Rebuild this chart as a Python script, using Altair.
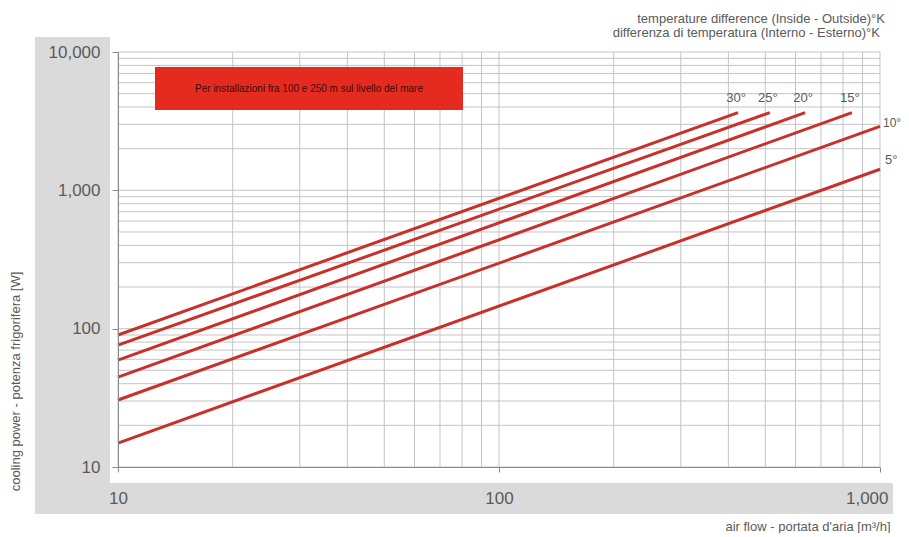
import altair as alt
import pandas as pd

# ---- data ----
delta_t = [5, 10, 15, 20, 25, 30]
labels = ["5°", "10°", "15°", "20°", "25°", "30°"]
flow_start = [10, 10, 10, 10, 10, 10]
power_start = [14.9, 30.5, 44.6, 59.3, 76, 90]
flow_end = [1000, 1000, 844, 636, 514, 424]
power_end = [1420, 2900, 3650, 3650, 3650, 3650]

x_ticks = [10, 100, 1000]
y_ticks = [10, 100, 1000, 10000]
x_grid = [10, 20, 30, 40, 50, 60, 70, 80, 90,
          100, 200, 300, 400, 500, 600, 700, 800, 900, 1000]
y_grid = [10, 20, 30, 40, 50, 60, 70, 80, 90,
          100, 200, 300, 400, 500, 600, 700, 800, 900,
          1000, 2000, 3000, 4000, 5000, 6000, 7000, 8000, 9000, 10000]

header = ["temperature difference (Inside - Outside)°K",
          "differenza di temperatura (Interno - Esterno)°K"]
note = "Per installazioni fra 100 e 250 m sul livello del mare"
x_title = "air flow - portata d'aria [m³/h]"
y_title = "cooling power - potenza frigorifera [W]"

# ---- tables ----
rows = []
for i, dt in enumerate(delta_t):
    rows.append({"dt": dt, "label": labels[i], "flow": flow_start[i], "power": power_start[i], "end": 0})
    rows.append({"dt": dt, "label": labels[i], "flow": flow_end[i], "power": power_end[i], "end": 1})
df = pd.DataFrame(rows)

W, H = 762, 415
FONT = "Liberation Sans"
GRAY = "#5a5a5a"
RED_LINE = "#c9302a"

xscale = alt.Scale(type="log", domain=[10, 1000], nice=False)
yscale = alt.Scale(type="log", domain=[10, 10000], nice=False)

X_AX = alt.Axis(values=x_ticks, format=",d", grid=False, tickSize=5, labelPadding=18,
                labelFontSize=17, labelColor=GRAY, labelFont=FONT, zindex=1,
                labelAlign={"condition": {"test": "datum.value >= 1000", "value": "right"}, "value": "center"},
                labelOffset={"condition": {"test": "datum.value >= 1000", "value": 8}, "value": 0},
                domainColor="#8a8a8a", tickColor="#8a8a8a",
                title=x_title, titleX=772, titleY=59, titleAlign="right",
                titleBaseline="middle", titleFont=FONT, titleFontSize=13,
                titleFontWeight="normal", titleColor=GRAY)
Y_AX = alt.Axis(values=y_ticks, format=",d", grid=False, tickSize=6, labelPadding=12,
                labelFontSize=17, labelColor=GRAY, labelFont=FONT, zindex=1,
                domainColor="#8a8a8a", tickColor="#8a8a8a",
                title=y_title, titleX=-103, titleY=329, titleAngle=270,
                titleAlign="center", titleBaseline="middle", titleFont=FONT,
                titleFontSize=13, titleFontWeight="normal", titleColor=GRAY)

one = alt.Data(values=[{}])

# gray bands (background decoration)
band_left = alt.Chart(one).mark_rect(color="#dadada").encode(
    x=alt.value(-83), x2=alt.value(-8), y=alt.value(-15), y2=alt.value(462))
band_bottom = alt.Chart(one).mark_rect(color="#dadada").encode(
    x=alt.value(-8), x2=alt.value(775), y=alt.value(431), y2=alt.value(462))
plot_bg = alt.Chart(one).mark_rect(color="white").encode(
    x=alt.value(0), x2=alt.value(W), y=alt.value(0), y2=alt.value(H))

vgrid = alt.Chart(pd.DataFrame({"g": x_grid})).mark_rule(color="#c4c4c4", strokeWidth=1).encode(
    x=alt.X("g:Q", scale=xscale, axis=X_AX))
hgrid = alt.Chart(pd.DataFrame({"g": y_grid})).mark_rule(color="#c4c4c4", strokeWidth=1).encode(
    y=alt.Y("g:Q", scale=yscale, axis=Y_AX))

note_box = alt.Chart(one).mark_rect(color="#e52b20").encode(
    x=alt.value(37), x2=alt.value(345), y=alt.value(15), y2=alt.value(58))
note_text = alt.Chart(one).mark_text(
    text=note, font=FONT, fontSize=10, color="#3a0c08", align="center", baseline="middle"
).encode(x=alt.value(191), y=alt.value(37))

lines = alt.Chart(df).mark_line(color=RED_LINE, strokeWidth=3).encode(
    x=alt.X("flow:Q", scale=xscale, axis=X_AX),
    y=alt.Y("power:Q", scale=yscale, axis=Y_AX),
    detail="label:N",
)

ends = alt.Chart(df).transform_filter("datum.end == 1")
enc = dict(x=alt.X("flow:Q", scale=xscale, axis=X_AX),
           y=alt.Y("power:Q", scale=yscale, axis=Y_AX), text="label:N")
lab_top = ends.transform_filter("datum.dt >= 15").mark_text(
    font=FONT, fontSize=13, color=GRAY, align="center", baseline="middle", dy=-15, dx=-2
).encode(**enc)
lab_10 = ends.transform_filter("datum.dt == 10").mark_text(
    font=FONT, fontSize=12, color=GRAY, align="left", baseline="middle", dx=3, dy=-3
).encode(**enc)
lab_5 = ends.transform_filter("datum.dt == 5").mark_text(
    font=FONT, fontSize=13, color=GRAY, align="left", baseline="middle", dx=5, dy=-9
).encode(**enc)

head1 = alt.Chart(one).mark_text(
    text=header[0], font=FONT, fontSize=13, color=GRAY, align="right", baseline="middle"
).encode(x=alt.value(767), y=alt.value(-33))
head2 = alt.Chart(one).mark_text(
    text=header[1], font=FONT, fontSize=13, color=GRAY, align="right", baseline="middle"
).encode(x=alt.value(762), y=alt.value(-19))

chart = alt.layer(
    band_left, band_bottom, plot_bg, vgrid, hgrid, note_box, note_text,
    lines, lab_top, lab_10, lab_5, head1, head2
).properties(
    width=W, height=H,
    padding={"left": 110, "top": 44, "right": 21, "bottom": 66},
    autosize=alt.AutoSizeParams(type="none"),
    background="white",
).configure_view(strokeWidth=0)

chart.save("out.html", embed_options={"renderer": "svg", "actions": False})
